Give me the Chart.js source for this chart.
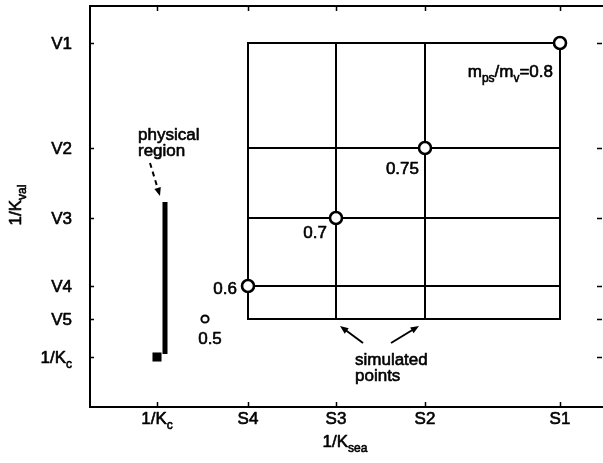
<!DOCTYPE html>
<html>
<head>
<meta charset="utf-8">
<script src="https://cdn.jsdelivr.net/npm/chart.js@4.4.1/dist/chart.umd.min.js"></script>
<style>
  html, body { margin: 0; padding: 0; background: #fff; }
  #wrap { width: 603px; height: 463px; }
</style>
</head>
<body>
<div id="wrap"><canvas id="c" width="603" height="463"></canvas></div>
<script>
// Sea-quark hopping parameter axis (1/K_sea): tick positions and labels
const seaTicks = [67, 158, 246, 335, 470];
const seaLabels = [['1/K', 'c'], ['S4'], ['S3'], ['S2'], ['S1']];

// Valence hopping parameter axis (1/K_val): tick positions and labels
const valTicks = [364, 259, 189, 121, 88, 50];
const valLabels = [['V1'], ['V2'], ['V3'], ['V4'], ['V5'], ['1/K', 'c']];

// Simulated points on the diagonal (sea = valence) with m_ps/m_v values
const simX = [470, 335, 246, 158];
const simY = [364, 259, 189, 121];
const simRatio = ['0.8', '0.75', '0.7', '0.6'];

// Extra lighter point
const extraX = [115];
const extraY = [88];
const extraRatio = ['0.5'];

// Physical region: segment at 1/K_c sea-side, plus chiral point
const physX = [75, 75];
const physY = [53, 205];
const chiralX = [67];
const chiralY = [50];

const AX = { xMin: 0, xMax: 513, yMin: 0, yMax: 401 };

// Grid of simulated (sea, valence) combinations: S4..S1 x V1..V5
const gridSea = seaTicks.slice(1);
const gridVal = valTicks.slice(0, 5);
const gridSets = [];
gridVal.forEach(v => gridSets.push({
  data: [{ x: Math.min(...gridSea), y: v }, { x: Math.max(...gridSea), y: v }]
}));
gridSea.forEach(s => gridSets.push({
  data: [{ x: s, y: Math.min(...gridVal) }, { x: s, y: Math.max(...gridVal) }]
}));

const FONT = '"Liberation Sans", Arial, Helvetica, sans-serif';

// Text with alternating normal / subscript segments, slightly heavy strokes
function drawRich(ctx, parts, x, y, align, size) {
  const subSize = Math.round(size * 0.72);
  const segs = parts.map((t, i) => ({ t, sub: i % 2 === 1 }));
  let w = 0;
  segs.forEach(s => {
    ctx.font = (s.sub ? subSize : size) + 'px ' + FONT;
    s.w = ctx.measureText(s.t).width;
    w += s.w;
  });
  let cx = align === 'right' ? x - w : align === 'center' ? x - w / 2 : x;
  ctx.textAlign = 'left';
  ctx.textBaseline = 'alphabetic';
  ctx.lineWidth = 0.6;
  ctx.lineJoin = 'round';
  segs.forEach(s => {
    ctx.font = (s.sub ? subSize : size) + 'px ' + FONT;
    const yy = s.sub ? y + size * 0.28 : y;
    ctx.fillText(s.t, cx, yy);
    ctx.strokeText(s.t, cx, yy);
    cx += s.w;
  });
}

function arrow(ctx, x1, y1, x2, y2, dashed) {
  ctx.save();
  ctx.strokeStyle = '#000';
  ctx.fillStyle = '#000';
  ctx.lineWidth = 2;
  const ang = Math.atan2(y2 - y1, x2 - x1);
  const head = 9;
  const ex = x2 - Math.cos(ang) * head * 0.8;
  const ey = y2 - Math.sin(ang) * head * 0.8;
  if (dashed) ctx.setLineDash([5, 4]);
  ctx.beginPath();
  ctx.moveTo(x1, y1);
  ctx.lineTo(ex, ey);
  ctx.stroke();
  ctx.setLineDash([]);
  ctx.beginPath();
  ctx.moveTo(x2, y2);
  ctx.lineTo(x2 - Math.cos(ang - 0.38) * head, y2 - Math.sin(ang - 0.38) * head);
  ctx.lineTo(x2 - Math.cos(ang + 0.38) * head, y2 - Math.sin(ang + 0.38) * head);
  ctx.closePath();
  ctx.fill();
  ctx.restore();
}

const decor = {
  id: 'decor',
  afterDatasetsDraw(chart) {
    const ctx = chart.ctx;
    const a = chart.chartArea;
    const xs = chart.scales.x, ys = chart.scales.y;
    ctx.save();
    ctx.strokeStyle = '#000';
    ctx.fillStyle = '#000';
    ctx.lineWidth = 2;
    // frame: left, bottom, top
    ctx.beginPath();
    ctx.moveTo(a.right, a.top); ctx.lineTo(a.left, a.top);
    ctx.lineTo(a.left, a.bottom); ctx.lineTo(a.right, a.bottom);
    ctx.stroke();
    // inward ticks
    ctx.lineWidth = 1.5;
    seaTicks.forEach(v => {
      const px = Math.round(xs.getPixelForValue(v)) + 0.5;
      ctx.beginPath();
      ctx.moveTo(px, a.bottom); ctx.lineTo(px, a.bottom - 5);
      ctx.moveTo(px, a.top); ctx.lineTo(px, a.top + 5);
      ctx.stroke();
    });
    valTicks.forEach(v => {
      const py = Math.round(ys.getPixelForValue(v)) + 0.5;
      ctx.beginPath();
      ctx.moveTo(a.left, py); ctx.lineTo(a.left + 4, py);
      ctx.moveTo(a.right - 1, py); ctx.lineTo(a.right - 6, py);
      ctx.stroke();
    });
    // tick labels
    seaTicks.forEach((v, i) => {
      drawRich(ctx, seaLabels[i], xs.getPixelForValue(v), a.bottom + 17, 'center', 17);
    });
    valTicks.forEach((v, i) => {
      drawRich(ctx, valLabels[i], a.left - 18, ys.getPixelForValue(v) + 6, 'right', 17);
    });
    // axis titles
    drawRich(ctx, ['1/K', 'sea'], xs.getPixelForValue(seaTicks[2]) + 9, a.bottom + 40, 'center', 17);
    ctx.save();
    ctx.translate(21, 205);
    ctx.rotate(-Math.PI / 2);
    drawRich(ctx, ['1/K', 'val'], 0, 0, 'center', 17);
    ctx.restore();

    // point labels
    const offs = [[-7, 34, 'right'], [-6, 26, 'right'], [-9, 20, 'right'], [-11, 8, 'right']];
    simRatio.forEach((t, i) => {
      const px = xs.getPixelForValue(simX[i]), py = ys.getPixelForValue(simY[i]);
      const o = offs[i];
      if (i === 0) {
        drawRich(ctx, ['m', 'ps', '/m', 'v', '=' + t], px + o[0], py + o[1], o[2], 17);
      } else {
        drawRich(ctx, [t], px + o[0], py + o[1], o[2], 17);
      }
    });
    drawRich(ctx, [extraRatio[0]], xs.getPixelForValue(extraX[0]) + 5, ys.getPixelForValue(extraY[0]) + 25, 'center', 17);

    // physical region note
    drawRich(ctx, ['physical'], 138, 140, 'left', 17);
    drawRich(ctx, ['region'], 138, 156, 'left', 17);
    arrow(ctx, 150, 163, 160, 196, true);

    // simulated points note
    drawRich(ctx, ['simulated'], 355, 365, 'left', 17);
    drawRich(ctx, ['points'], 355, 381, 'left', 17);
    arrow(ctx, 363, 343, 340, 326, false);
    arrow(ctx, 391, 343, 419, 326, false);
    ctx.restore();
  }
};

const datasets = [
  {
    data: simX.map((x, i) => ({ x, y: simY[i] })),
    showLine: false, pointRadius: 6, pointBorderWidth: 2.6,
    pointBackgroundColor: '#fff', pointBorderColor: '#000', order: 0
  },
  {
    data: extraX.map((x, i) => ({ x, y: extraY[i] })),
    showLine: false, pointRadius: 3.6, pointBorderWidth: 2,
    pointBackgroundColor: '#fff', pointBorderColor: '#000', order: 0
  },
  {
    data: chiralX.map((x, i) => ({ x, y: chiralY[i] })),
    showLine: false, pointStyle: 'rect', pointRadius: 6.4, pointBorderWidth: 0,
    pointBackgroundColor: '#000', pointBorderColor: '#000', order: 1
  },
  {
    data: physX.map((x, i) => ({ x, y: physY[i] })),
    showLine: true, borderColor: '#000', borderWidth: 5, pointRadius: 0, order: 1,
    borderCapStyle: 'butt'
  },
  ...gridSets.map(g => ({
    data: g.data, showLine: true, borderColor: '#000', borderWidth: 2,
    pointRadius: 0, order: 2, borderCapStyle: 'square'
  }))
];

function noPad(s) {
  s.paddingLeft = 0; s.paddingRight = 0; s.paddingTop = 0; s.paddingBottom = 0;
}

new Chart(document.getElementById('c'), {
  type: 'scatter',
  data: { datasets },
  options: {
    responsive: false,
    devicePixelRatio: 1,
    animation: false,
    clip: false,
    layout: { autoPadding: false, padding: { top: 6, left: 0, right: 0, bottom: 0 } },
    plugins: { legend: { display: false }, tooltip: { enabled: false } },
    scales: {
      x: {
        type: 'linear', min: AX.xMin, max: AX.xMax,
        grid: { display: false }, border: { display: false },
        ticks: { display: false, padding: 0 },
        afterFit(s) { s.height = 56; noPad(s); }
      },
      y: {
        type: 'linear', min: AX.yMin, max: AX.yMax,
        grid: { display: false }, border: { display: false },
        ticks: { display: false, padding: 0 },
        afterFit(s) { s.width = 90; noPad(s); }
      }
    }
  },
  plugins: [decor, {
    id: 'bg',
    beforeDraw(c) {
      const ctx = c.ctx;
      ctx.save(); ctx.fillStyle = '#fff';
      ctx.fillRect(0, 0, c.width, c.height); ctx.restore();
    }
  }]
});
</script>
</body>
</html>
